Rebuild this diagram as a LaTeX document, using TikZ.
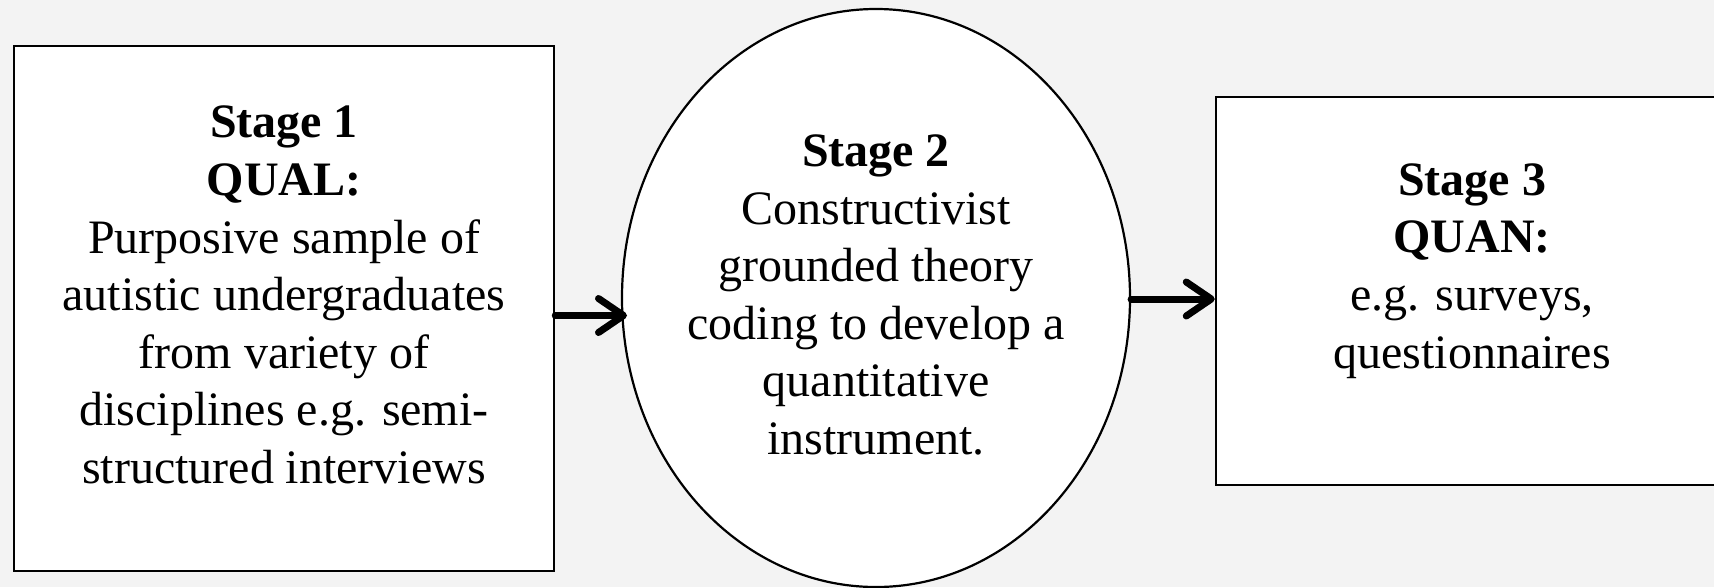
\documentclass[tikz,border=0pt]{standalone}
\usepackage{fontspec}
\setmainfont{Liberation Serif}
\usetikzlibrary{shapes.geometric,arrows.meta}
\definecolor{bg}{HTML}{F3F3F3}
\tikzset{
  stagebox/.style={draw=black,fill=white,line width=2.5pt,rectangle,inner sep=0pt},
  stageoval/.style={draw=black,fill=white,line width=2.2pt,ellipse,inner sep=0pt},
  stagetext/.style={align=center,inner sep=0pt,font=\fontsize{48}{57.6}\selectfont},
  flow/.style={line width=7pt,line cap=round,line join=round,-{Straight Barb[length=25pt,width=34pt,line cap=round,line join=round]}}
}
\begin{document}
\begin{tikzpicture}[x=1pt,y=-1pt]
\useasboundingbox (0,0) rectangle (1714,587);
\fill[bg] (0,0) rectangle (1714,587);
\begin{scope}
\clip (0,0) rectangle (1714,587);
\node[stagebox,minimum width=540pt,minimum height=525pt] (b1) at (284,308.5) {};
\node[stageoval,minimum width=508pt,minimum height=578pt] (e2) at (876,298) {};
\node[stagebox,minimum width=512pt,minimum height=388pt] (b3) at (1472,291) {};
\end{scope}
\node[stagetext] (t1) at (284,295) {\textbf{Stage 1}\\\textbf{QUAL:}\\Purposive sample of\\autistic undergraduates\\from variety of\\disciplines e.g. semi-\\structured interviews};
\node[stagetext] (t2) at (876,295) {\textbf{Stage 2}\\Constructivist\\grounded theory\\coding to develop a\\quantitative\\instrument.};
\node[stagetext] (t3) at (1472,271) {\textbf{Stage 3}\\\textbf{QUAN:}\\e.g. surveys,\\questionnaires};
\coordinate (a1s) at ([yshift=-7pt]b1.east);
\coordinate (a1e) at (627,315);
\draw[flow] (a1s) -- (a1s -| a1e);
\coordinate (a2s) at ([yshift=-1pt]e2.east);
\draw[flow] (a2s) -- (a2s -| b3.west);
\end{tikzpicture}
\end{document}
